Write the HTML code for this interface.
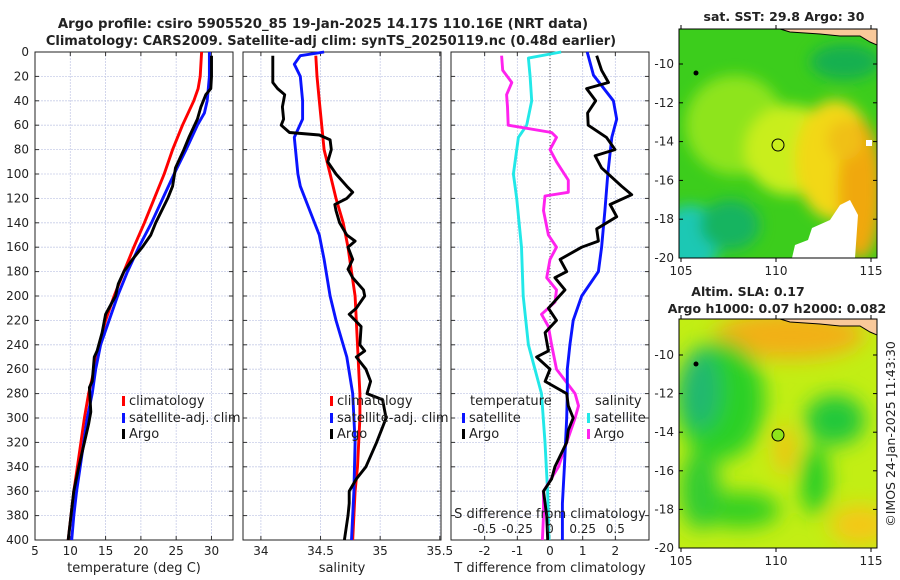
<!DOCTYPE html>
<html><head><meta charset="utf-8"><style>
body{margin:0;background:#fff;width:900px;height:580px;overflow:hidden;font-family:"DejaVu Sans","Liberation Sans",sans-serif;}
svg{position:absolute;left:0;top:0}
text{font-family:"DejaVu Sans","Liberation Sans",sans-serif;fill:#222}
</style></head><body>
<svg id="chart" width="900" height="580">
<defs>
<filter id="bl1" x="-20%" y="-20%" width="140%" height="140%"><feGaussianBlur stdDeviation="7"/></filter>
<filter id="bl2" x="-20%" y="-20%" width="140%" height="140%"><feGaussianBlur stdDeviation="10"/></filter>
<clipPath id="cm1"><rect x="679" y="29" width="198" height="229"/></clipPath>
<clipPath id="cm2"><rect x="679" y="319" width="198" height="229"/></clipPath>
</defs>
<text x="323" y="28" text-anchor="middle" font-size="13.3" font-weight="bold">Argo profile: csiro 5905520_85 19-Jan-2025 14.17S 110.16E (NRT data)</text>
<text x="331" y="45" text-anchor="middle" font-size="13" font-weight="bold">Climatology: CARS2009. Satellite-adj clim: synTS_20250119.nc (0.48d earlier)</text>

<g clip-path="url(#cm1)">
<rect x="679" y="29" width="198" height="229" fill="#3ccd1c"/>
<g filter="url(#bl1)">
<ellipse cx="735" cy="125" rx="50" ry="50" fill="#8ee41a"/>
<ellipse cx="790" cy="150" rx="45" ry="45" fill="#c9ee1a"/>
<ellipse cx="835" cy="160" rx="40" ry="60" fill="#f2d814"/>
<ellipse cx="860" cy="190" rx="22" ry="70" fill="#f0a810"/>
<ellipse cx="845" cy="140" rx="18" ry="20" fill="#f0c012"/>
<ellipse cx="690" cy="240" rx="30" ry="35" fill="#1cc8b4"/>
<ellipse cx="730" cy="225" rx="30" ry="25" fill="#18b460"/>
<ellipse cx="845" cy="62" rx="35" ry="18" fill="#14b050"/>
</g>
<path d="M792 258 L795 245 L808 240 L812 228 L830 220 L840 205 L850 200 L858 215 L855 258 Z" fill="#fff"/>
<rect x="866" y="140" width="6" height="6" fill="#fff"/>
<path d="M780 29 L877 29 L877 45 L870 42 L860 36 L840 36 L820 34 L790 32 Z" fill="#f9c99a" stroke="#000" stroke-width="1"/>
<circle cx="696" cy="73" r="2.5" fill="#000"/>
<ellipse cx="778" cy="145" rx="6" ry="6" fill="none" stroke="#000" stroke-width="1"/>
</g>
<rect x="679" y="29" width="198" height="229" fill="none" stroke="#000" stroke-width="1"/>
<text x="784" y="21" text-anchor="middle" font-size="12.5" font-weight="bold">sat. SST: 29.8 Argo: 30</text>

<g clip-path="url(#cm2)">
<rect x="679" y="319" width="198" height="229" fill="#c2ee14"/>
<g filter="url(#bl2)">
<ellipse cx="790" cy="335" rx="75" ry="24" fill="#f2b018"/>
<ellipse cx="720" cy="400" rx="45" ry="60" fill="#2cd028"/>
<ellipse cx="700" cy="390" rx="20" ry="40" fill="#20b870"/>
<ellipse cx="835" cy="420" rx="30" ry="25" fill="#20c83a"/>
<ellipse cx="815" cy="480" rx="14" ry="35" fill="#24cc28"/>
<ellipse cx="740" cy="510" rx="40" ry="18" fill="#34d024"/>
<ellipse cx="700" cy="490" rx="20" ry="40" fill="#30cc30"/>
<ellipse cx="785" cy="450" rx="10" ry="25" fill="#f4c018"/>
<ellipse cx="860" cy="525" rx="30" ry="20" fill="#f4c818"/>
</g>
<path d="M780 319 L877 319 L877 335 L870 332 L860 326 L840 326 L820 324 L790 322 Z" fill="#f9c99a" stroke="#000" stroke-width="1"/>
<circle cx="696" cy="364" r="2.5" fill="#000"/>
<ellipse cx="778" cy="435" rx="6" ry="6" fill="#8ee41a" stroke="#000" stroke-width="1"/>
</g>
<rect x="679" y="319" width="198" height="229" fill="none" stroke="#000" stroke-width="1"/>
<text x="748" y="296" text-anchor="middle" font-size="12.5" font-weight="bold">Altim. SLA: 0.17</text>
<text x="777" y="313" text-anchor="middle" font-size="12.5" font-weight="bold">Argo h1000: 0.07 h2000: 0.082</text>
<text transform="translate(895,434) rotate(-90)" text-anchor="middle" font-size="12.5">©IMOS 24-Jan-2025 11:43:30</text>
</svg>
<script>
// ---- data ----
const depthTicks=[0,20,40,60,80,100,120,140,160,180,200,220,240,260,280,300,320,340,360,380,400];
const tempTicks=[5,10,15,20,25,30];
const salTicks=[34,34.5,35,35.5];
const tdiffTicks=[-2,-1,0,1,2];
const sdiffTicks=[-0.5,-0.25,0,0.25,0.5];
const latTicks=[-10,-12,-14,-16,-18,-20];
const lonTicks=[105,110,115];

const climTempDepth=[0,20,30,40,60,80,100,120,140,160,180,200,220,240,260,280,300,320,340,360,380,400];
const climTemp=[28.6,28.4,28.1,27.5,25.9,24.5,23.3,21.9,20.5,19.0,17.6,16.2,15.0,14.1,13.4,12.6,12.0,11.5,11.0,10.5,10.1,9.7];
const satTempDepth=[0,20,40,50,60,80,100,120,140,160,180,200,220,240,260,280,300,320,340,360,380,400];
const satTemp=[29.7,29.7,29.4,29.0,28.0,26.4,24.7,23.1,21.5,19.7,18.1,16.7,15.5,14.3,13.6,13.1,12.4,11.9,11.4,10.9,10.5,10.2];
const argoTempDepth=[3,20,30,35,45,55,70,80,95,110,120,140,150,160,170,180,190,200,215,230,245,250,270,275,295,305,320,340,360,380,400];
const argoTemp=[30.0,30.0,29.9,29.2,28.5,28.0,26.8,26.1,24.9,24.5,23.8,22.1,21.4,20.2,18.8,17.6,16.8,16.4,15.0,14.5,13.8,13.4,13.1,12.7,12.9,12.6,12.0,11.2,10.5,10.1,9.7];

const climSalDepth=[3,20,40,60,80,100,120,140,160,180,200,240,280,300,340,360,380,400];
const climSal=[34.46,34.47,34.49,34.51,34.53,34.58,34.63,34.69,34.73,34.76,34.79,34.81,34.83,34.83,34.81,34.79,34.78,34.77];
const satSalDepth=[0,3,10,20,40,55,70,100,110,130,150,170,200,220,250,280,320,360,400];
const satSal=[34.53,34.33,34.28,34.33,34.35,34.35,34.28,34.31,34.33,34.41,34.49,34.53,34.58,34.63,34.72,34.77,34.79,34.78,34.76];
const argoSalDepth=[3,25,30,35,45,55,60,66,68,72,80,90,100,110,115,120,125,130,140,150,155,160,170,178,185,195,200,210,215,225,240,245,250,260,270,280,285,295,300,310,320,340,350,360,370,380,400];
const argoSal=[34.10,34.10,34.14,34.20,34.18,34.19,34.17,34.24,34.49,34.58,34.59,34.56,34.63,34.72,34.77,34.72,34.62,34.63,34.66,34.72,34.79,34.73,34.77,34.73,34.77,34.86,34.87,34.80,34.74,34.84,34.83,34.87,34.80,34.88,34.92,34.89,35.02,35.04,35.05,35.01,34.97,34.88,34.80,34.74,34.74,34.73,34.70];

const satTdiffDepth=[0,19,40,55,70,100,130,160,180,200,220,240,260,280,300,340,370,400];
const satTdiff=[1.14,1.33,1.94,2.04,1.89,1.77,1.68,1.58,1.48,0.97,0.71,0.61,0.53,0.53,0.51,0.44,0.38,0.38];
const argoTdiffDepth=[3,15,25,30,40,50,60,70,80,85,95,110,117,125,135,145,155,160,170,180,185,195,210,220,230,245,250,260,270,280,290,300,310,320,340,350,360,380,400];
const argoTdiff=[1.43,1.58,1.79,1.12,1.40,1.15,1.17,1.73,1.99,1.38,1.58,2.19,2.5,1.84,2.04,1.43,1.48,0.97,0.31,0.51,0.15,0.46,-0.05,0.20,-0.15,-0.05,-0.41,0,-0.15,0.51,0.56,0.71,0.56,0.51,0.15,0.05,-0.20,-0.10,-0.07];
const satSdiffDepth=[0,5,20,40,60,70,100,120,160,200,240,280,320,360,400];
const satSdiff=[0.085,-0.165,-0.152,-0.14,-0.178,-0.242,-0.28,-0.255,-0.218,-0.205,-0.165,-0.065,-0.038,-0.018,-0.008];
const argoSdiffDepth=[3,15,25,35,45,60,66,70,80,90,105,115,118,130,150,160,170,185,195,205,215,225,240,260,280,290,300,320,340,360,380,400];
const argoSdiff=[-0.37,-0.362,-0.292,-0.332,-0.325,-0.32,0.012,0.05,0,0.05,0.14,0.14,-0.038,-0.05,-0.012,0.05,0,-0.025,0.05,0.038,-0.065,-0.012,0.012,0.05,0.192,0.218,0.192,0.128,0.065,-0.05,-0.05,-0.058];

// ---- layout ----
const NS='http://www.w3.org/2000/svg';
const svg=document.getElementById('chart');
const Y0=52,Y1=540;
function y(d){return Y0+(d/400)*(Y1-Y0);}
function mk(tag,attrs,parent){const e=document.createElementNS(NS,tag);for(const k in attrs)e.setAttribute(k,attrs[k]);(parent||svg).appendChild(e);return e;}
const panels=[
 {x0:35,x1:233,min:5,max:33.05,name:'temperature'},
 {x0:243,x1:441,min:33.85,max:35.51,name:'salinity'},
 {x0:451,x1:649,min:-3.03,max:3.03,name:'difference'}
];
function sx(p,v){return p.x0+(v-p.min)/(p.max-p.min)*(p.x1-p.x0);}

panels.forEach((p,i)=>{
  const g=mk('g',{});
  
  
  depthTicks.forEach(d=>{
    const l=mk('line',{x1:p.x0,x2:p.x1,y1:y(d),y2:y(d),stroke:'#c8cde8','stroke-width':0.8,'stroke-dasharray':'2,1'},g);
    
    
    mk('line',{x1:p.x0,x2:p.x0+4,y1:y(d),y2:y(d),stroke:'#333'},g);
    mk('line',{x1:p.x1-4,x2:p.x1,y1:y(d),y2:y(d),stroke:'#333'},g);
  });
  const xt=i==0?tempTicks:i==1?salTicks:tdiffTicks;
  xt.forEach(v=>{
    const X=sx(p,v);
    const l=mk('line',{x1:X,x2:X,y1:Y0,y2:Y1,stroke:'#c8cde8','stroke-width':0.8,'stroke-dasharray':'2,1'},g);
    
    
    mk('line',{x1:X,x2:X,y1:Y1-4,y2:Y1,stroke:'#333'},g);
    mk('line',{x1:X,x2:X,y1:Y0,y2:Y0+4,stroke:'#333'},g);
    const t=mk('text',{x:X,y:555,'text-anchor':'middle','font-size':12},g);
    t.textContent=String(v);
    
    
  });
  const fr=mk('rect',{x:p.x0,y:Y0,width:p.x1-p.x0,height:Y1-Y0,fill:'none',stroke:'#222','stroke-width':1},g);
  
  
});
depthTicks.forEach(d=>{
  const t=mk('text',{x:29,y:y(d)+4,'text-anchor':'end','font-size':12});
  t.textContent=String(d);
  
  
});
const zl=mk('line',{x1:sx(panels[2],0),x2:sx(panels[2],0),y1:Y0,y2:Y1,stroke:'#555','stroke-width':1,'stroke-dasharray':'1,2'});



function series(p,xs,ds,color,name,scale){
  const pts=xs.map((v,i)=>sx(p,v*(scale||1)).toFixed(1)+','+y(ds[i]).toFixed(1)).join(' ');
  const l=mk('polyline',{points:pts,fill:'none',stroke:color,'stroke-width':2.9,'stroke-linejoin':'round'});
  
  
}
series(panels[0],climTemp,climTempDepth,'#ff0000','clim-temperature-line');
series(panels[0],satTemp,satTempDepth,'#0a14ff','satellite-temperature-line');
series(panels[0],argoTemp,argoTempDepth,'#000','argo-temperature-line');
series(panels[1],climSal,climSalDepth,'#ff0000','clim-salinity-line');
series(panels[1],satSal,satSalDepth,'#0a14ff','satellite-salinity-line');
series(panels[1],argoSal,argoSalDepth,'#000','argo-salinity-line');
series(panels[2],satSdiff,satSdiffDepth,'#22e8e8','satellite-salinity-diff-line',4);
series(panels[2],argoSdiff,argoSdiffDepth,'#ff22ee','argo-salinity-diff-line',4);
series(panels[2],satTdiff,satTdiffDepth,'#0a14ff','satellite-temperature-diff-line');
series(panels[2],argoTdiff,argoTdiffDepth,'#000','argo-temperature-diff-line');

sdiffTicks.forEach(v=>{
  const t=mk('text',{x:sx(panels[2],v*4),y:533,'text-anchor':'middle','font-size':12});
  t.textContent=String(v);
  
  
});
function txt(x,yy,s,name,opts){const t=mk('text',Object.assign({x:x,y:yy,'font-size':13},opts||{}));t.textContent=s;
  
  return t;}
txt(550,518,'S difference from climatology','salinity-diff-axis-title',{'text-anchor':'middle'});
txt(134,572,'temperature (deg C)','temperature-axis-title',{'text-anchor':'middle'});
txt(342,572,'salinity','salinity-axis-title',{'text-anchor':'middle'});
txt(550,572,'T difference from climatology','temperature-diff-axis-title',{'text-anchor':'middle'});

function legend(x,yy,color,label,name){
  const r=mk('rect',{x:x,y:yy-9,width:3,height:10,fill:color});
  
  
  txt(x+7,yy,label,name);
}
legend(122,405,'#ff0000','climatology','legend-climatology');
legend(122,422,'#0a14ff','satellite-adj. clim','legend-satellite');
legend(122,438,'#000','Argo','legend-argo');
legend(330,405,'#ff0000','climatology','legend-salinity-climatology');
legend(330,422,'#0a14ff','satellite-adj. clim','legend-salinity-satellite');
legend(330,438,'#000','Argo','legend-salinity-argo');
txt(470,405,'temperature','legend-temperature-heading');
legend(462,422,'#0a14ff','satellite','legend-diff-temp-satellite');
legend(462,438,'#000','Argo','legend-diff-temp-argo');
txt(595,405,'salinity','legend-salinity-heading');
legend(587,422,'#22e8e8','satellite','legend-diff-sal-satellite');
legend(587,438,'#ff22ee','Argo','legend-diff-sal-argo');

[{top:29,bot:258,lat10:64,name:'sst'},{top:319,bot:548,lat10:355,name:'sla'}].forEach(m=>{
  const pd=(m.bot-m.lat10)/10;
  latTicks.forEach(la=>{
    const Y=m.lat10+(-10-la)*pd;
    mk('line',{x1:679,x2:683,y1:Y,y2:Y,stroke:'#000'});
    mk('line',{x1:873,x2:877,y1:Y,y2:Y,stroke:'#000'});
    const t=mk('text',{x:674,y:Y+4,'text-anchor':'end','font-size':12});
    t.textContent=String(la);
    
    
  });
  lonTicks.forEach(lo=>{
    const X=681+(lo-105)*19;
    mk('line',{x1:X,x2:X,y1:m.bot,y2:m.bot+4,stroke:'#000'});
    mk('line',{x1:X,x2:X,y1:m.top-4,y2:m.top,stroke:'#000'});
    const t=mk('text',{x:X,y:m.bot+17,'text-anchor':'middle','font-size':12});
    t.textContent=String(lo);
    
    
  });
});
</script>
</body></html>
